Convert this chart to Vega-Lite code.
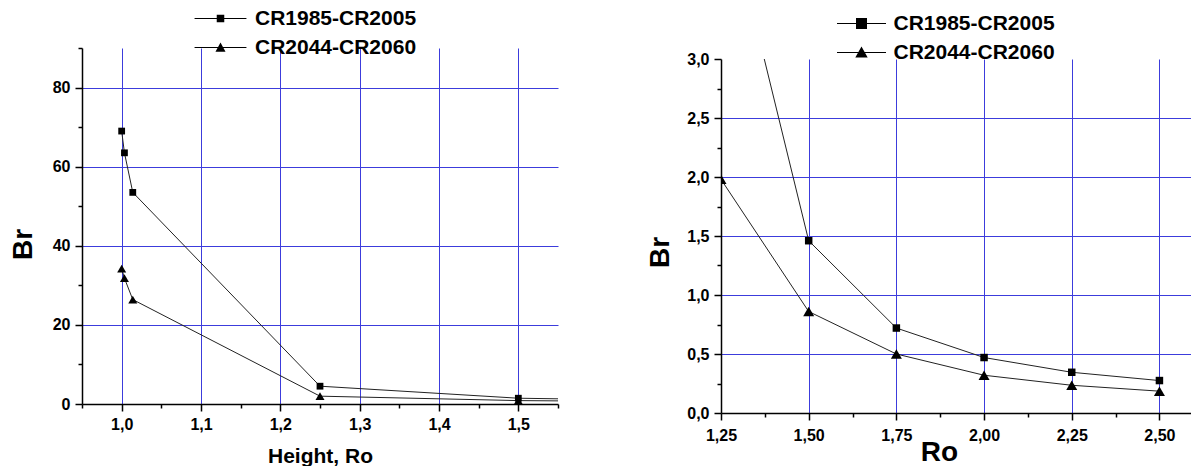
{
  "$schema": "https://vega.github.io/schema/vega-lite/v6.json",
  "padding": {"left": 9, "top": 8, "right": 0, "bottom": 0},
  "background": "white",
  "data": {"values": [
    {"series": "CR1985-CR2005", "ro": 1.0, "br": 69.0},
    {"series": "CR1985-CR2005", "ro": 1.0035, "br": 63.5},
    {"series": "CR1985-CR2005", "ro": 1.014, "br": 53.5},
    {"series": "CR1985-CR2005", "ro": 1.25, "br": 4.5},
    {"series": "CR1985-CR2005", "ro": 1.5, "br": 1.46},
    {"series": "CR1985-CR2005", "ro": 1.75, "br": 0.72},
    {"series": "CR1985-CR2005", "ro": 2.0, "br": 0.47},
    {"series": "CR1985-CR2005", "ro": 2.25, "br": 0.345},
    {"series": "CR1985-CR2005", "ro": 2.5, "br": 0.275},
    {"series": "CR2044-CR2060", "ro": 1.0, "br": 34.2},
    {"series": "CR2044-CR2060", "ro": 1.0035, "br": 31.8},
    {"series": "CR2044-CR2060", "ro": 1.014, "br": 26.4},
    {"series": "CR2044-CR2060", "ro": 1.25, "br": 1.98},
    {"series": "CR2044-CR2060", "ro": 1.5, "br": 0.86},
    {"series": "CR2044-CR2060", "ro": 1.75, "br": 0.5},
    {"series": "CR2044-CR2060", "ro": 2.0, "br": 0.32},
    {"series": "CR2044-CR2060", "ro": 2.25, "br": 0.235},
    {"series": "CR2044-CR2060", "ro": 2.5, "br": 0.185}
  ]},
  "hconcat": [
    {
      "width": 476,
      "height": 356,
      "layer": [
        {
          "mark": {"type": "line", "color": "#222222", "strokeWidth": 1, "clip": true},
          "encoding": {
            "x": {"field": "ro", "type": "quantitative",
              "scale": {"domain": [0.95, 1.55], "nice": false, "zero": false},
              "axis": {
                "values": [0.95, 1.0, 1.05, 1.1, 1.15, 1.2, 1.25, 1.3, 1.35, 1.4, 1.45, 1.5, 1.55],
                "tickCount": 100,
                "labelExpr": "abs(datum.value*20 - 2*round(datum.value*10)) < 0.1 ? replace(format(datum.value, '.1f'), '.', ',') : ''",
                "labelFlush": false, "labelOverlap": false, "labelPadding": 5,
                "tickSize": {"condition": {"test": "abs(datum.value*20 - 2*round(datum.value*10)) > 0.1", "value": 4}, "value": 7},
                "gridOpacity": {"condition": {"test": "abs(datum.value*20 - 2*round(datum.value*10)) > 0.1", "value": 0}, "value": 1},
                "title": "Height, Ro", "titleFontSize": 21,
                "titleX": 238, "titleY": 52, "titleAlign": "center", "titleBaseline": "middle"
              }},
            "y": {"field": "br", "type": "quantitative",
              "scale": {"domain": [0, 90], "nice": false},
              "axis": {
                "values": [0, 10, 20, 30, 40, 50, 60, 70, 80, 90],
                "tickCount": 100,
                "labelExpr": "datum.value % 20 == 0 && datum.value < 90 ? format(datum.value, 'd') : ''",
                "labelOverlap": false, "labelPadding": 5,
                "tickSize": {"condition": {"test": "datum.value % 20 != 0 || datum.value > 85", "value": 4}, "value": 7},
                "gridOpacity": {"condition": {"test": "datum.value % 20 != 0 || datum.value > 85 || datum.value < 1", "value": 0}, "value": 1},
                "title": "Br", "titleFontSize": 28,
                "titleX": -59, "titleY": 196, "titleAngle": 270, "titleAlign": "center", "titleBaseline": "middle"
              }},
            "detail": {"field": "series"}
          }
        },
        {
          "mark": {"type": "point", "filled": true, "color": "black", "opacity": 1, "clip": true},
          "encoding": {
            "x": {"field": "ro", "type": "quantitative"},
            "y": {"field": "br", "type": "quantitative"},
            "shape": {"field": "series", "type": "nominal",
              "scale": {"domain": ["CR1985-CR2005", "CR2044-CR2060"], "range": ["square", "triangle-up"]},
              "legend": null},
            "size": {"condition": {"test": "datum.series == 'CR1985-CR2005'", "value": 46}, "value": 81}
          }
        },
        {
          "transform": [{"filter": "datum.ro > 100"}],
          "mark": {"type": "point", "filled": true, "color": "black", "opacity": 1},
          "encoding": {
            "x": {"field": "ro", "type": "quantitative"},
            "y": {"field": "br", "type": "quantitative"},
            "shape": {"field": "series", "type": "nominal",
              "scale": {"domain": ["CR1985-CR2005", "CR2044-CR2060"],
                "range": ["M-3.1,-0.06H3.1V0.06H-3.1Z M-0.45,-0.45H0.45V0.45H-0.45Z", "M-3.1,-0.06H3.1V0.06H-3.1Z M0,-0.6L0.6,0.5H-0.6Z"]},
              "legend": {
                "title": null, "orient": "none", "direction": "vertical",
                "legendX": 128, "legendY": -40, "padding": 0,
                "labelFont": "Liberation Sans", "labelFontSize": 21, "labelFontWeight": "bold", "labelColor": "black", "labelLimit": 400,
                "symbolSize": 280, "labelOffset": 24, "rowPadding": 7,
                "symbolFillColor": "black", "symbolStrokeColor": "black", "symbolStrokeWidth": 0, "symbolOpacity": 1
              }}
          }
        }
      ],
      "resolve": {"scale": {"shape": "independent"}, "legend": {"shape": "independent"}}
    },
    {
      "vconcat": [
        {
          "width": 470, "height": 11,
          "data": {"values": []},
          "mark": {"type": "point", "opacity": 0}
        },
        {
          "width": 470,
          "height": 354,
          "layer": [
            {
              "mark": {"type": "line", "color": "#222222", "strokeWidth": 1, "clip": true},
              "encoding": {
                "x": {"field": "ro", "type": "quantitative",
                  "scale": {"domain": [1.25, 2.59], "nice": false, "zero": false},
                  "axis": {
                    "values": [1.25, 1.375, 1.5, 1.625, 1.75, 1.875, 2.0, 2.125, 2.25, 2.375, 2.5],
                    "tickCount": 100,
                    "labelExpr": "abs(datum.value*4 - round(datum.value*4)) < 0.01 ? replace(format(datum.value, '.2f'), '.', ',') : ''",
                    "labelFlush": false, "labelOverlap": false, "labelPadding": 7,
                    "tickSize": {"condition": {"test": "abs(datum.value*4 - round(datum.value*4)) > 0.01", "value": 4}, "value": 7},
                    "gridOpacity": {"condition": {"test": "abs(datum.value*4 - round(datum.value*4)) > 0.01 || datum.value < 1.3", "value": 0}, "value": 1},
                    "title": "Ro", "titleFontSize": 28,
                    "titleX": 218, "titleY": 39, "titleAlign": "center", "titleBaseline": "middle"
                  }},
                "y": {"field": "br", "type": "quantitative",
                  "scale": {"domain": [0, 3], "nice": false},
                  "axis": {
                    "values": [0, 0.25, 0.5, 0.75, 1.0, 1.25, 1.5, 1.75, 2.0, 2.25, 2.5, 2.75, 3.0],
                    "tickCount": 100,
                    "labelExpr": "abs(datum.value*2 - round(datum.value*2)) < 0.01 ? replace(format(datum.value, '.1f'), '.', ',') : ''",
                    "labelOverlap": false, "labelPadding": 5,
                    "tickSize": {"condition": {"test": "abs(datum.value*2 - round(datum.value*2)) > 0.01", "value": 4}, "value": 7},
                    "gridOpacity": {"condition": {"test": "abs(datum.value*2 - round(datum.value*2)) > 0.01 || datum.value < 0.01 || datum.value > 2.99", "value": 0}, "value": 1},
                    "title": "Br", "titleFontSize": 28,
                    "titleX": -61, "titleY": 193, "titleAngle": 270, "titleAlign": "center", "titleBaseline": "middle"
                  }},
                "detail": {"field": "series"}
              }
            },
            {
              "mark": {"type": "point", "filled": true, "color": "black", "opacity": 1, "clip": true},
              "encoding": {
                "x": {"field": "ro", "type": "quantitative"},
                "y": {"field": "br", "type": "quantitative"},
                "shape": {"field": "series", "type": "nominal",
                  "scale": {"domain": ["CR1985-CR2005", "CR2044-CR2060"], "range": ["square", "triangle-up"]},
                  "legend": null},
                "size": {"condition": {"test": "datum.series == 'CR1985-CR2005'", "value": 56}, "value": 121}
              }
            },
            {
              "transform": [{"filter": "datum.ro > 100"}],
              "mark": {"type": "point", "filled": true, "color": "black", "opacity": 1},
              "encoding": {
                "x": {"field": "ro", "type": "quantitative"},
                "y": {"field": "br", "type": "quantitative"},
                "shape": {"field": "series", "type": "nominal",
                  "scale": {"domain": ["CR1985-CR2005", "CR2044-CR2060"],
                    "range": ["M-2.45,-0.05H2.45V0.05H-2.45Z M-0.55,-0.55H0.55V0.55H-0.55Z", "M-2.45,-0.05H2.45V0.05H-2.45Z M0,-0.6L0.62,0.5H-0.62Z"]},
                  "legend": {
                    "title": null, "orient": "none", "direction": "vertical",
                    "legendX": 130, "legendY": -46, "padding": 0,
                    "labelFont": "Liberation Sans", "labelFontSize": 21, "labelFontWeight": "bold", "labelColor": "black", "labelLimit": 400,
                    "symbolSize": 400, "labelOffset": 21.5, "rowPadding": 7,
                    "symbolFillColor": "black", "symbolStrokeColor": "black", "symbolStrokeWidth": 0, "symbolOpacity": 1
                  }}
              }
            }
          ],
          "resolve": {"scale": {"shape": "independent"}, "legend": {"shape": "independent"}}
        }
      ],
      "spacing": 0,
      "bounds": "flush",
      "resolve": {"scale": {"shape": "independent"}, "legend": {"shape": "independent"}}
    }
  ],
  "spacing": 163,
  "bounds": "flush",
  "resolve": {"scale": {"shape": "independent"}, "legend": {"shape": "independent"}},
  "config": {
    "view": {"stroke": null},
    "axis": {
      "domainColor": "black", "domainWidth": 1.5,
      "tickColor": "black", "tickWidth": 1.5,
      "labelFont": "Liberation Sans", "labelFontWeight": "bold", "labelFontSize": 16, "labelColor": "black",
      "titleFont": "Liberation Sans", "titleFontWeight": "bold", "titleColor": "black",
      "gridColor": "#3c3cdc", "gridWidth": 1, "grid": true
    }
  }
}
